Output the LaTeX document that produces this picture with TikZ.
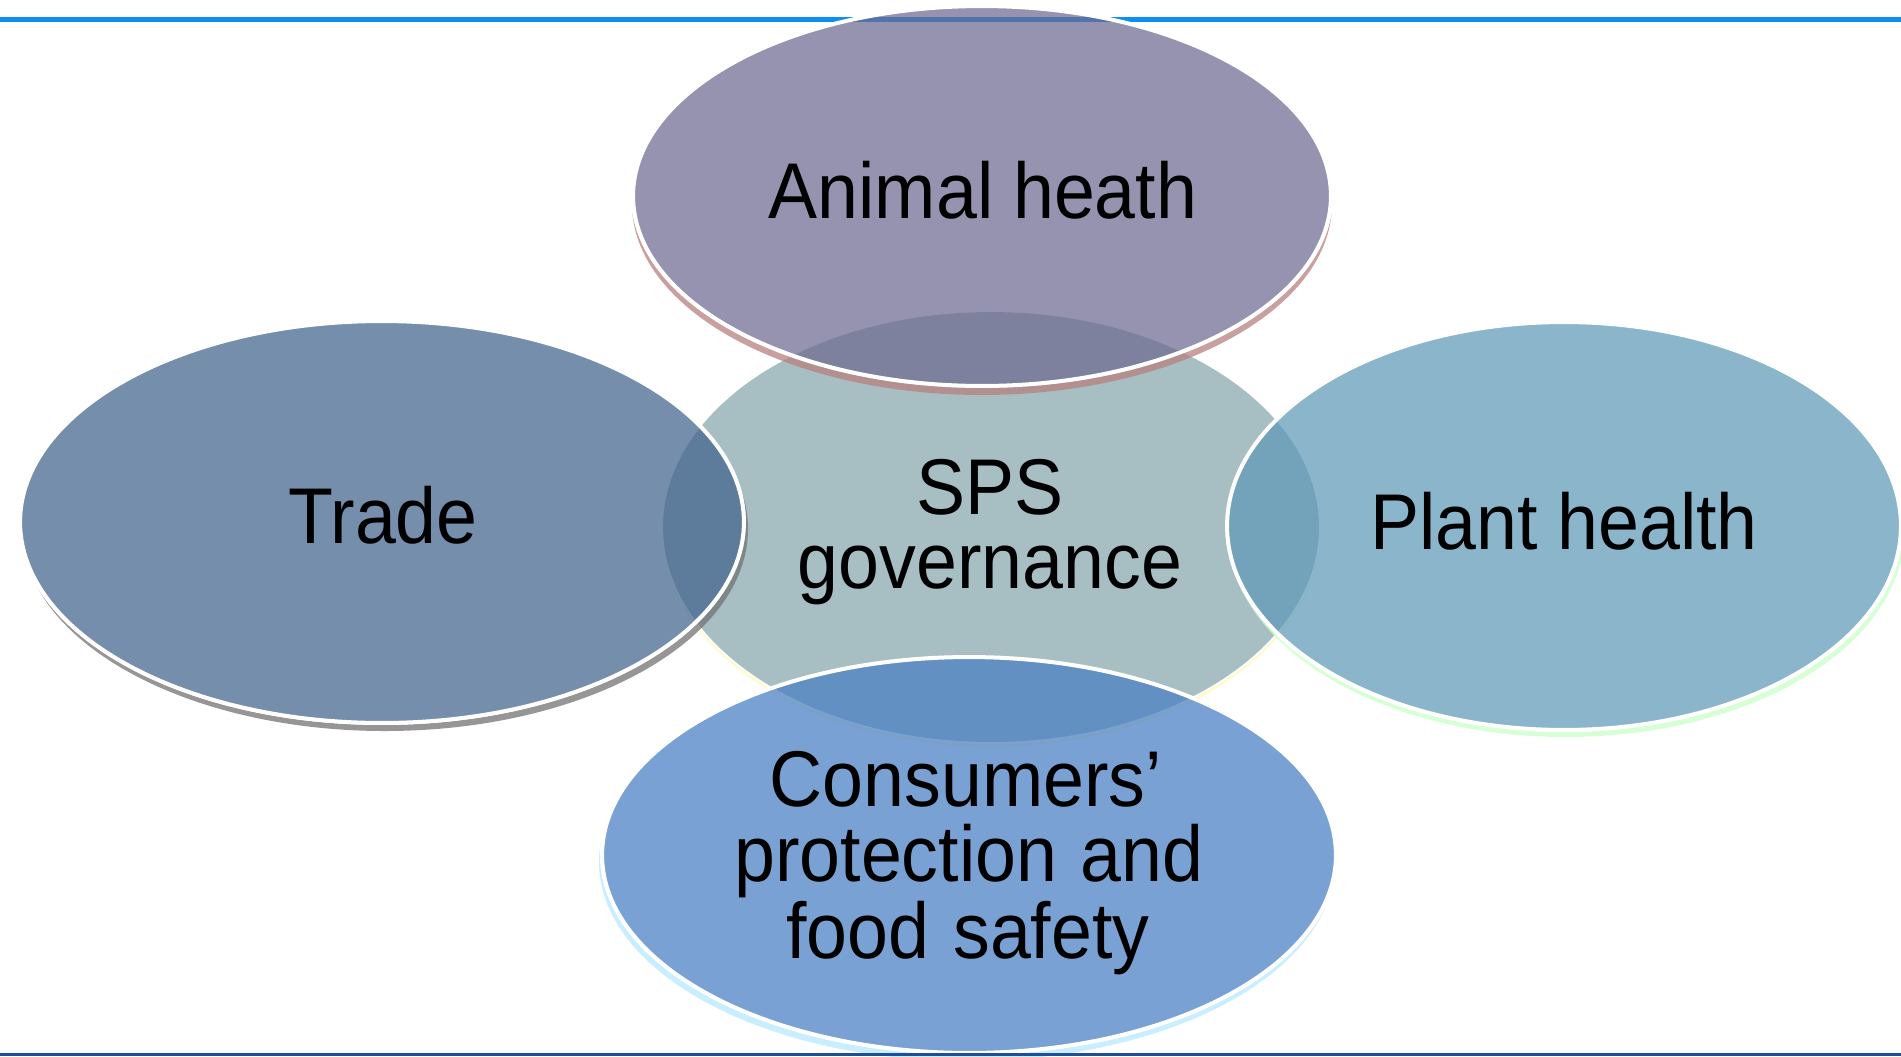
\documentclass[tikz,border=0pt]{standalone}
\usepackage{fontspec}
\setmainfont{Liberation Sans}
\newfontfamily\narrowf[FakeStretch=0.93]{Liberation Sans}
\usetikzlibrary{shapes.geometric,calc}
\definecolor{topline}{HTML}{0A8FF5}
\definecolor{botline}{HTML}{1F4E9A}
\definecolor{cTrade}{HTML}{41638D}
\definecolor{cAnimal}{HTML}{6D6A91}
\definecolor{cPlant}{HTML}{5E99B7}
\definecolor{cCons}{HTML}{487EC3}
\definecolor{cSPS}{HTML}{A7BFC3}
\tikzset{
  blob/.style={ellipse, draw=white, line width=0.08cm, inner sep=0pt, fill opacity=0.72},
  lbl/.style={anchor=base, inner sep=0pt, font=\narrowf\fontsize{45}{45}\selectfont, text=black}
}
\newcommand{\shadowellipse}[6]{% center x, y, rx, ry, dx/dy, colour/opacity
  \begin{scope}[even odd rule]
    \clip (-10,-10) rectangle (1911,1066) (#1,#2) ellipse [x radius=#3+2, y radius=#4+2];
    \fill[#6] ($(#1,#2)+(#5)$) ellipse [x radius=#3+1, y radius=#4+1];
  \end{scope}}
\begin{document}
\begin{tikzpicture}[x=0.02cm, y=-0.02cm]
\useasboundingbox (0,0) rectangle (1901,1056);
\fill[white] (0,0) rectangle (1901,1056);
\coordinate (tl) at (0,19);
\coordinate (tr) at (1901,19);
\draw[topline, line width=0.1cm] (tl) -- (tr);
% SPS
\shadowellipse{991}{527}{328}{215}{0,4}{yellow!25, opacity=0.8}
\node[blob, fill=cSPS, fill opacity=1, draw=none, minimum width=13.12cm, minimum height=8.6cm] (sps) at (991,527) {};
% Trade
\shadowellipse{382}{522}{362}{201}{3,7}{black!55, opacity=0.75}
\node[blob, fill=cTrade, minimum width=14.48cm, minimum height=8.04cm] (trade) at (382,522) {};
% Animal
\shadowellipse{982}{196}{349}{190}{0,8}{red!45!black!50!white, opacity=0.75}
\node[blob, fill=cAnimal, minimum width=13.96cm, minimum height=7.6cm] (animal) at (982,196) {};
% Plant
\shadowellipse{1564}{526}{337}{204}{2,6}{green!20!white, opacity=0.8}
\node[blob, fill=cPlant, minimum width=13.48cm, minimum height=8.16cm] (plant) at (1564,526) {};
% Consumers
\shadowellipse{969}{855}{367}{198}{-2,7}{blue!30!cyan!25!white, opacity=0.85}
\node[blob, fill=cCons, minimum width=14.68cm, minimum height=7.92cm] (cons) at (969,855) {};
% bottom line
\coordinate (bl) at (0,1054.5);
\coordinate (br) at (1901,1054.5);
\draw[botline, line width=0.06cm] (bl) -- (br);
% labels
\node[lbl] (tAnimal) at (983,218) {Animal\hspace{0.25em}heath};
\node[lbl] (tTrade) at (383,543) {Trade};
\node[lbl] (tSPS1) at (990,514) {SPS};
\node[lbl] (tSPS2) at (990,588) {governance};
\node[lbl] (tPlant) at (1564,549) {Plant\hspace{0.25em}health};
\node[lbl] (tC1) at (966,806) {Consumers’};
\node[lbl] (tC2) at (969,881) {protection\hspace{0.3em}and};
\node[lbl] (tC3) at (968,958) {food\hspace{0.3em}safety};
\end{tikzpicture}
\end{document}
